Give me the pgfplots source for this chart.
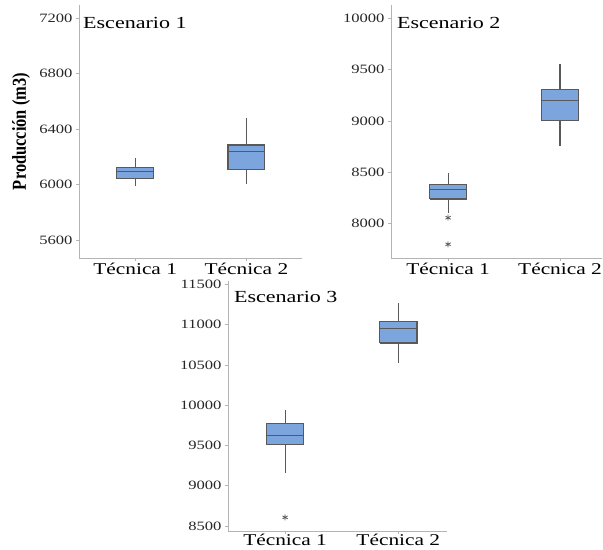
\documentclass[border=0pt]{standalone}
\usepackage{fontspec}
\setmainfont[FakeStretch=1.3]{Liberation Serif}
\newfontfamily\plainserif{Liberation Serif}
\usepackage{graphicx}
\usepackage{pgfplots}
\pgfplotsset{compat=1.18}

\definecolor{boxfill}{HTML}{7BA5DC}
\definecolor{boxedge}{HTML}{595959}
\definecolor{axgray}{HTML}{B4B4B4}

\pgfplotsset{
 panel/.style={
  scale only axis, anchor=north west,
  axis x line*=bottom, axis y line*=left,
  axis line style={axgray, line width=0.9pt},
  tick align=outside, major tick length=3bp,
  tick style={axgray, line width=0.6pt},
  xtick={1,2}, xticklabels={Técnica 1, Técnica 2},
  x tick label style={font=\fontsize{16.5}{18}\selectfont, text=black, yshift=1bp},
  y tick label style={font=\fontsize{12.8}{14}\selectfont, text=black!85},
  scaled y ticks=false,
  /pgf/number format/assume math mode=true,
  /pgf/number format/1000 sep={},
 },
 bx/.style={draw=boxedge, fill=boxfill, line width=1.1pt, solid, no marks},
 ln/.style={draw=boxedge, line width=1.1pt, solid, no marks},
 outl/.style={only marks, mark=asterisk, mark size=3bp, mark options={draw=boxedge, line width=0.8pt}},
}

\begin{document}
\begin{tikzpicture}
\path[use as bounding box] (0,0) rectangle (603bp,-550bp);

% Escenario 1
\begin{axis}[panel, at={(79bp,-5bp)}, width=223bp, height=253bp,
  xmin=0.495, xmax=2.5, ymin=5471, ymax=7293,
  ytick={5600,6000,6400,6800,7200},
  ylabel={\scalebox{1}[1.2]{\plainserif\bfseries\fontsize{16.5}{18}\selectfont Producción (m3)}},
  ylabel style={at={(axis description cs:-0.26,0.5)}, anchor=center},
]
% Tecnica 1: whiskers 5993-6189, Q1 6041, median 6091, Q3 6125
\addplot[ln] coordinates {(1,5993) (1,6189)};
\addplot[bx] coordinates {(0.835,6041) (1.165,6041) (1.165,6125) (0.835,6125) (0.835,6041)};
\addplot[ln] coordinates {(0.835,6091) (1.165,6091)};
% Tecnica 2: whiskers 6007-6479, Q1 6108, median 6235, Q3 6285
\addplot[ln] coordinates {(2,6007) (2,6479)};
\addplot[bx] coordinates {(1.835,6108) (2.165,6108) (2.165,6285) (1.835,6285) (1.835,6108)};
\addplot[ln] coordinates {(1.835,6235) (2.165,6235)};
\node[anchor=north west, inner sep=0pt, font=\fontsize{17}{19}\selectfont] at (rel axis cs:0.018,0.953) {Escenario 1};
\end{axis}

% Escenario 2
\begin{axis}[panel, at={(391bp,-5bp)}, width=211bp, height=253bp,
  xmin=0.49, xmax=2.375, ymin=7666, ymax=10127,
  ytick={8000,8500,9000,9500,10000},
]
\addplot[ln] coordinates {(1,8107) (1,8497)};
\addplot[bx] coordinates {(0.835,8240) (1.165,8240) (1.165,8377) (0.835,8377) (0.835,8240)};
\addplot[ln] coordinates {(0.835,8331) (1.165,8331)};
\addplot[ln] coordinates {(2,8760) (2,9549)};
\addplot[bx] coordinates {(1.835,9000) (2.165,9000) (2.165,9305) (1.835,9305) (1.835,9000)};
\addplot[ln] coordinates {(1.835,9195) (2.165,9195)};
\addplot[outl] coordinates {(1,8058) (1,7799)};
\node[anchor=north west, inner sep=0pt, font=\fontsize{17}{19}\selectfont] at (rel axis cs:0.028,0.953) {Escenario 2};
\end{axis}

% Escenario 3
\begin{axis}[panel, at={(228bp,-281bp)}, width=219bp, height=250bp,
  xmin=0.496, xmax=2.43, ymin=8438, ymax=11541,
  ytick={8500,9000,9500,10000,10500,11000,11500},
  x tick label style={yshift=2bp},
]
\addplot[ln] coordinates {(1,9152) (1,9942)};
\addplot[bx] coordinates {(0.835,9512) (1.165,9512) (1.165,9772) (0.835,9772) (0.835,9512)};
\addplot[ln] coordinates {(0.835,9620) (1.165,9620)};
\addplot[ln] coordinates {(2,10525) (2,11267)};
\addplot[bx] coordinates {(1.835,10772) (2.165,10772) (2.165,11033) (1.835,11033) (1.835,10772)};
\addplot[ln] coordinates {(1.835,10946) (2.165,10946)};
\addplot[outl] coordinates {(1,8607)};
\node[anchor=north west, inner sep=0pt, font=\fontsize{17}{19}\selectfont] at (rel axis cs:0.027,0.96) {Escenario 3};
\end{axis}
\end{tikzpicture}
\end{document}
